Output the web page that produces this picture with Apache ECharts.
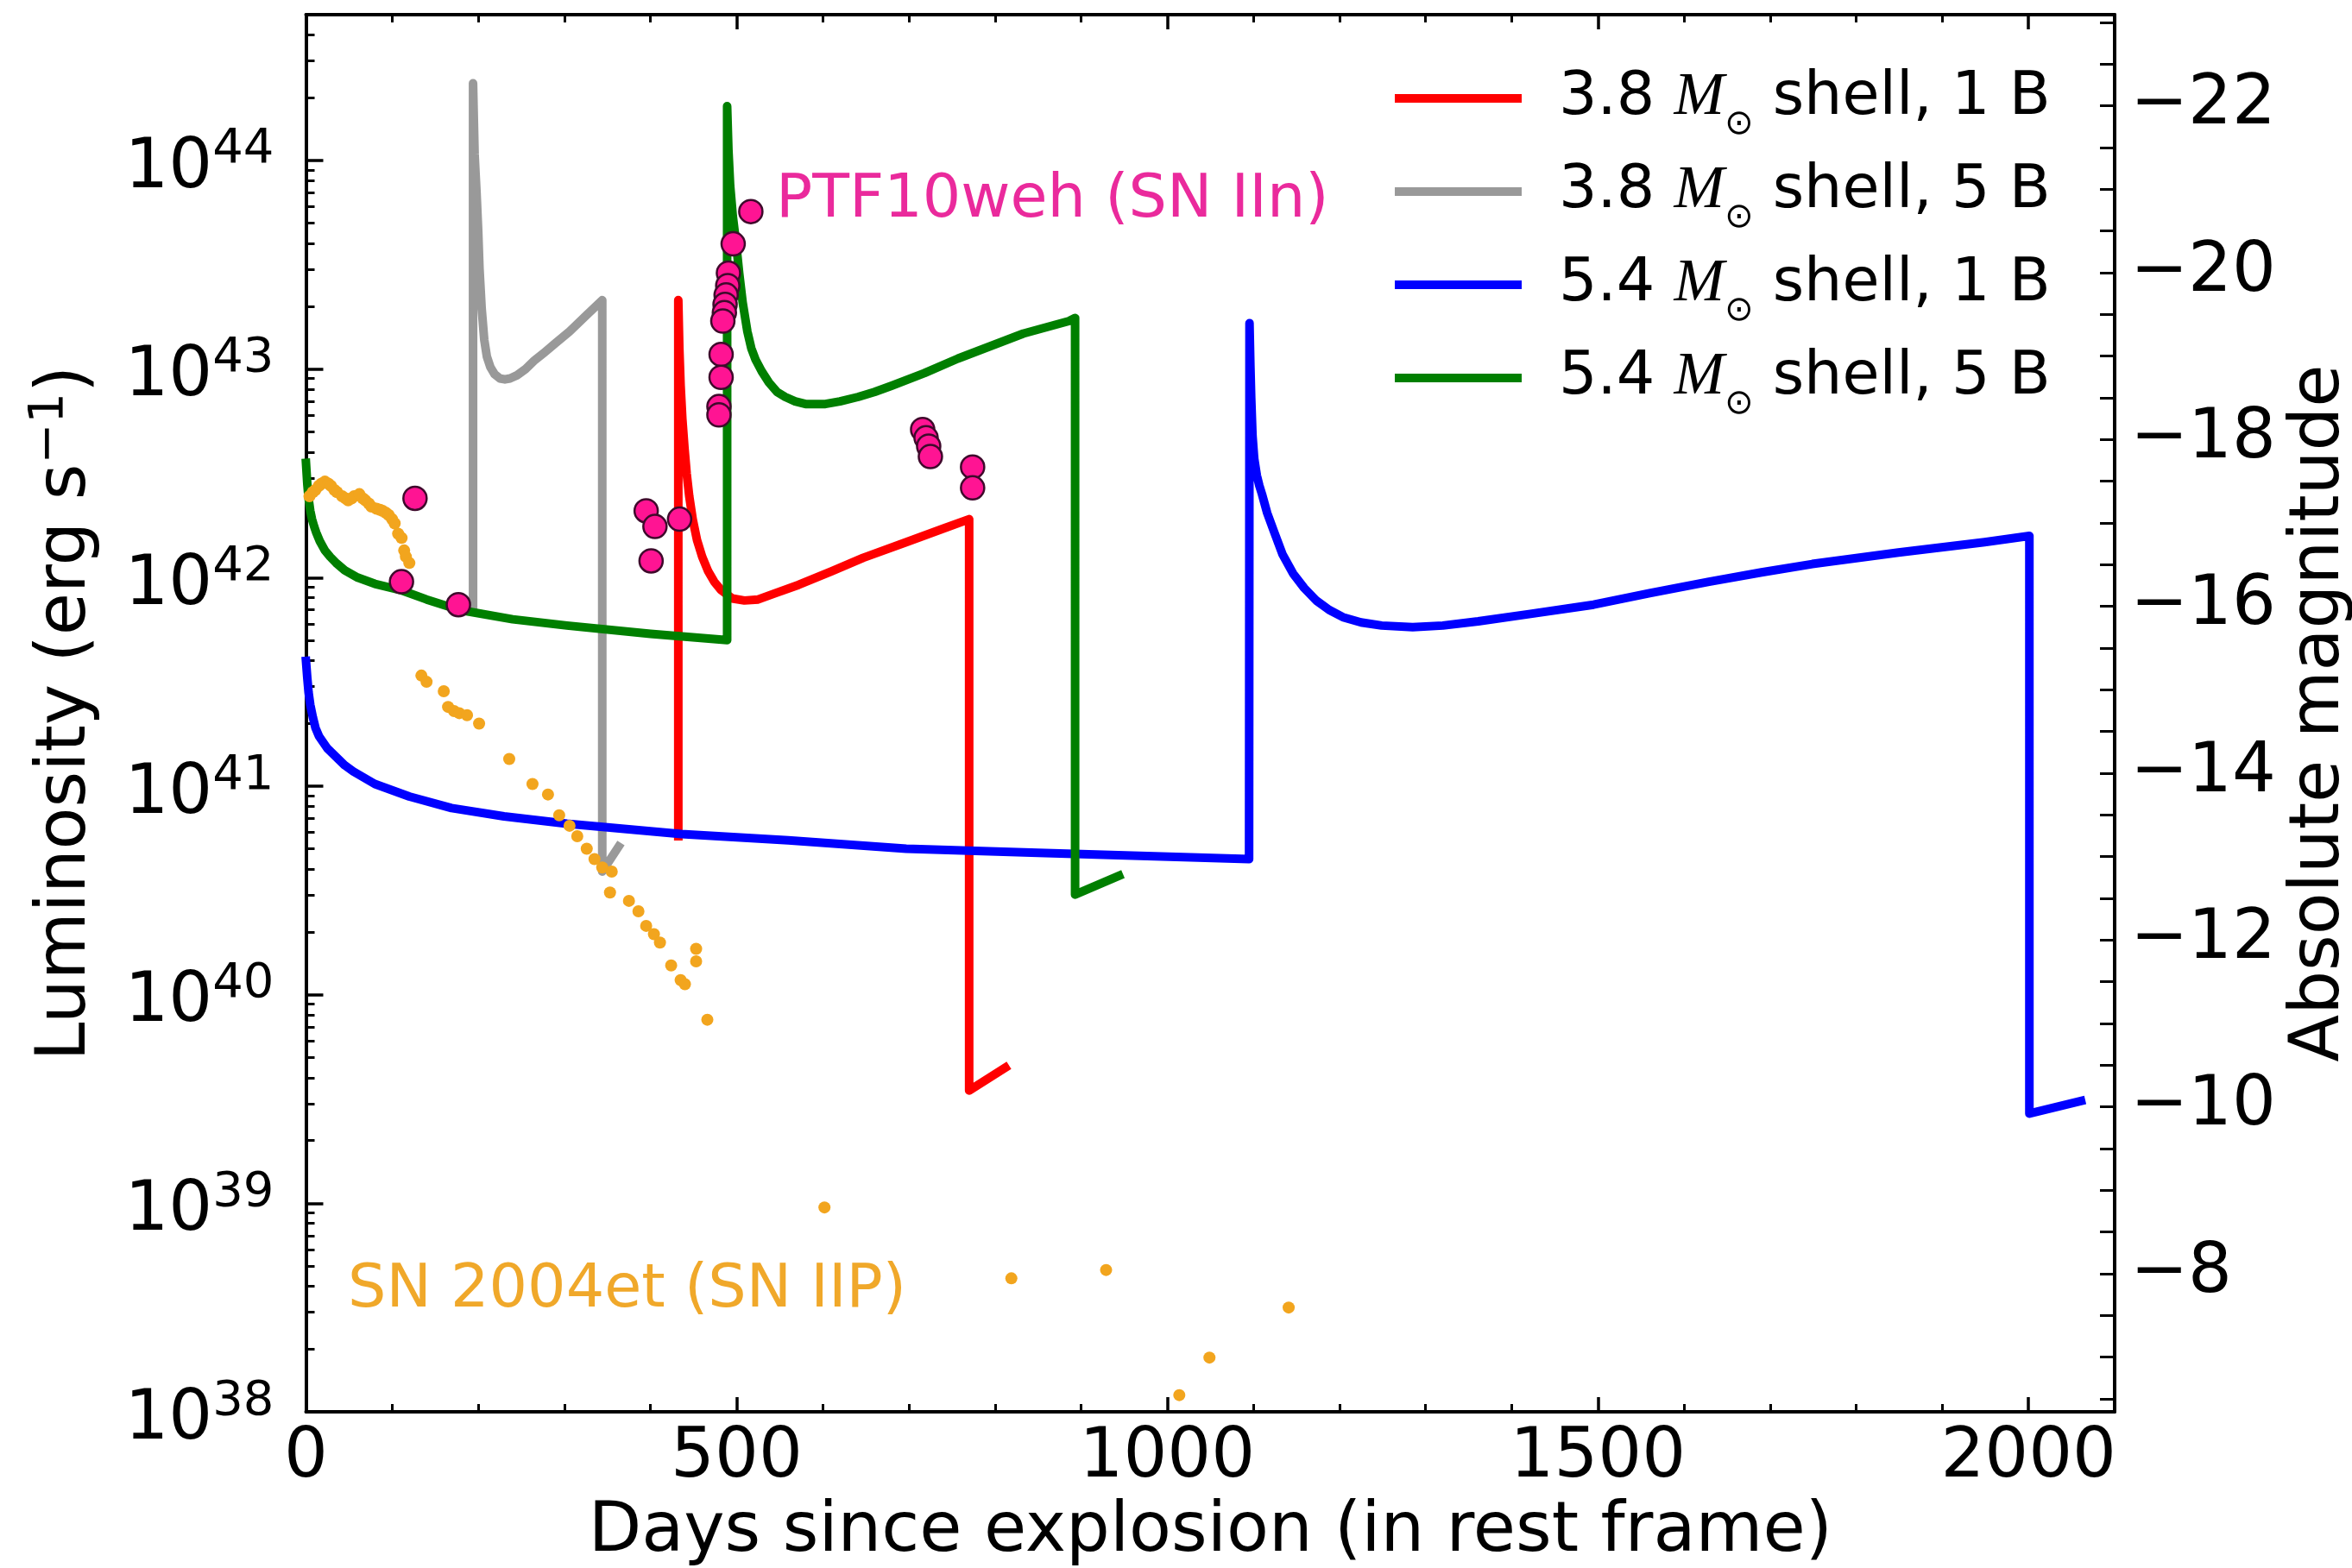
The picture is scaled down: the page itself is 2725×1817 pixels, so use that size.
<!DOCTYPE html>
<html>
<head>
<meta charset="utf-8">
<script src="https://cdn.jsdelivr.net/npm/echarts@6/dist/echarts.min.js"></script>
<style>
  html, body { margin: 0; padding: 0; background: #ffffff; }
  #chart { width: 2725px; height: 1817px; }
</style>
</head>
<body>
<div id="chart"></div>
<script>
// Light curves: [days since explosion, log10 L (erg/s)]
const shell38_1B = [
  [432.3, 40.76], [432.3, 43.33], [433.5, 43.10], [435, 42.92], [437, 42.76], [439.5, 42.62],
  [442, 42.50], [445, 42.39], [449, 42.28], [454, 42.18], [460, 42.10], [467, 42.03],
  [474, 41.98], [482, 41.94], [495, 41.90], [509, 41.89], [525, 41.895], [545, 41.925],
  [572, 41.965], [610, 42.03], [647, 42.095], [697, 42.17], [740, 42.235], [770, 42.28],
  [770, 39.54], [812, 39.65]
];
const shell38_5B = [
  [194, 41.84], [194, 44.37], [195, 44.18], [195.8, 44.03], [197, 43.93], [198, 43.85],
  [200, 43.66], [201.5, 43.48], [204, 43.29], [207, 43.14], [210, 43.06], [214, 43.01],
  [219, 42.975], [225, 42.955], [231, 42.95], [237, 42.955], [245, 42.97], [255, 43.00],
  [265, 43.04], [277, 43.08], [290, 43.125], [306, 43.18], [325, 43.255], [344, 43.33],
  [344, 40.59], [363, 40.71]
];
const shell54_1B = [
  [0, 41.60], [1.5, 41.52], [3, 41.45], [5, 41.39], [8, 41.33], [11, 41.28], [15, 41.24],
  [20, 41.21], [25, 41.18], [35, 41.14], [45, 41.10], [55, 41.07], [80, 41.01], [120, 40.95],
  [169, 40.895], [230, 40.855], [303, 40.82], [436, 40.77], [560, 40.74], [697, 40.70],
  [850, 40.68], [1095, 40.65], [1095.5, 43.22], [1096.5, 43.02], [1097.5, 42.86], [1099, 42.68],
  [1101, 42.57], [1104, 42.49], [1107, 42.44], [1110, 42.40], [1116, 42.31], [1124, 42.22],
  [1134, 42.11], [1146, 42.02], [1159, 41.95], [1173, 41.89], [1188, 41.845], [1204, 41.81],
  [1225, 41.785], [1249, 41.77], [1285, 41.762], [1320, 41.77], [1361, 41.79], [1420, 41.825],
  [1495, 41.87], [1560, 41.925], [1629, 41.98], [1690, 42.025], [1749, 42.065], [1849, 42.12],
  [1949, 42.17], [2001, 42.20], [2001, 39.43], [2061, 39.49]
];
const shell54_5B = [
  [0, 42.55], [1.5, 42.45], [3, 42.38], [5, 42.32], [7, 42.28], [9.5, 42.245], [12, 42.215],
  [16, 42.175], [22, 42.13], [28, 42.10], [35, 42.07], [45, 42.035], [60, 42.00], [80, 41.97],
  [110, 41.94], [140, 41.895], [178, 41.845], [240, 41.80], [303, 41.77], [400, 41.73],
  [489, 41.70], [489, 44.26], [490.5, 44.05], [492.5, 43.88], [495.5, 43.735], [499.5, 43.60],
  [503, 43.46], [507, 43.32], [512.5, 43.18], [517, 43.10], [522, 43.045], [529, 42.99],
  [537.5, 42.935], [547, 42.89], [556.5, 42.866], [568, 42.845], [580, 42.832], [603, 42.832],
  [620, 42.845], [641, 42.866], [660, 42.89], [680, 42.92], [718, 42.98], [757, 43.05],
  [795, 43.11], [833, 43.17], [886, 43.23], [893, 43.245], [893, 40.48], [944, 40.57]
];

// Observed photometry: [days, log10 L]
const ptf10weh = [
  [126.6, 42.38], [110.9, 41.98], [177, 41.87], [395, 42.32], [405.2, 42.245], [400.7, 42.08],
  [433.8, 42.28], [516.5, 43.755], [496, 43.60], [490.5, 43.46], [489.7, 43.40], [487.8, 43.355],
  [486.6, 43.31], [485.8, 43.27], [484, 43.23], [482, 43.07], [482, 42.96], [479.5, 42.82],
  [479.5, 42.78], [716, 42.71], [720, 42.67], [723, 42.63], [725, 42.58], [774, 42.53],
  [774, 42.43]
];
const sn2004et = [
  [4, 42.39], [8, 42.41], [11, 42.42], [15, 42.44], [18, 42.45], [22, 42.46], [26, 42.45],
  [29, 42.44], [33, 42.42], [36, 42.41], [42, 42.39], [46, 42.38], [49, 42.37], [53, 42.38],
  [56, 42.39], [62, 42.40], [66, 42.38], [69, 42.37], [73, 42.355], [76, 42.34], [82, 42.33],
  [86, 42.325], [89, 42.32], [93, 42.31], [96, 42.30], [100, 42.28], [103, 42.26], [107, 42.21],
  [111, 42.19], [114, 42.13], [116, 42.10], [120, 42.07], [134, 41.53], [140, 41.50],
  [160, 41.455], [165, 41.38], [172, 41.36], [178, 41.35], [187, 41.34], [201, 41.30],
  [236, 41.13], [263, 41.01], [281, 40.96], [294, 40.86], [306, 40.81], [315, 40.76],
  [326, 40.70], [335, 40.65], [344, 40.61], [355, 40.59], [353, 40.49], [375, 40.45],
  [386, 40.40], [395, 40.33], [404, 40.29], [411, 40.25], [424, 40.14], [435, 40.07],
  [440, 40.05], [453, 40.22], [453, 40.16], [466, 39.88], [602, 38.98], [819, 38.64],
  [929, 38.68], [1141, 38.50], [1049, 38.26], [1014, 38.08]
];

// Axis ticks
const dayTicks = [0, 500, 1000, 1500, 2000];
const lumExponents = [38, 39, 40, 41, 42, 43, 44];
const magTicks = [-22, -20, -18, -16, -14, -12, -10, -8];

const seriesNames = [
  '3.8 M\u2299 shell, 1 B',
  '3.8 M\u2299 shell, 5 B',
  '5.4 M\u2299 shell, 1 B',
  '5.4 M\u2299 shell, 5 B'
];
const seriesColors = ['#ff0000', '#999999', '#0000ff', '#007f00'];

// Axis extents
const DAY_MAX = 2100;
const LOG_MIN = 38;
const LOG_MAX = Math.log10(5e44);
const MAG_ZERO = 88.656;                 // M = MAG_ZERO - 2.5 log10 L
const MAG_TOP = MAG_ZERO - 2.5 * LOG_MAX;
const MAG_BOTTOM = MAG_ZERO - 2.5 * LOG_MIN;

const dayMinor = [];
for (let d = 100; d <= 2000; d += 100) if (d % 500 !== 0) dayMinor.push(d);
const lumMinor = [];
lumExponents.forEach(n => {
  for (let k = 2; k <= 9; k++) {
    const v = n + Math.log10(k);
    if (v <= LOG_MAX) lumMinor.push(v);
  }
});
const magMinor = [];
for (let m = -23; m <= -6.5; m += 0.5) magMinor.push(m);

const FONT = 'DejaVu Sans';
const INK = '#000000';

function tickAxis(base) {
  return Object.assign({
    type: 'value',
    splitLine: { show: false },
    axisLine: { show: false },
    axisLabel: { show: false },
    axisTick: { show: false }
  }, base);
}

const chart = echarts.init(document.getElementById('chart'), null, { renderer: 'canvas' });

const lineSeries = [shell38_1B, shell38_5B, shell54_1B, shell54_5B].map((d, i) => ({
  name: seriesNames[i],
  type: 'line',
  data: d,
  color: seriesColors[i],
  showSymbol: false,
  symbol: 'none',
  lineStyle: { width: 10, color: seriesColors[i], cap: 'square', join: 'round' },
  itemStyle: { color: seriesColors[i] },
  z: 2 + i * 0.01,
  silent: true
}));

chart.setOption({
  animation: false,
  backgroundColor: '#ffffff',
  textStyle: { fontFamily: FONT, color: INK },
  grid: { left: 354.5, right: 275, top: 17, bottom: 181, containLabel: false, outerBoundsMode: 'none' },
  legend: {
    data: seriesNames,
    orient: 'vertical',
    left: 1616,
    top: 63,
    padding: 0,
    itemGap: 6,
    itemWidth: 147,
    itemHeight: 10,
    icon: 'rect',
    selectedMode: false,
    itemStyle: { borderWidth: 0 },
    formatter: name => {
      const parts = name.split(' M\u2299');
      return '{f|' + parts[0] + ' }{m|M}{s|\u2299}{a|' + parts[1] + '}';
    },
    textStyle: {
      color: INK,
      rich: {
        f: { fontFamily: FONT, fontSize: 70, lineHeight: 102, color: INK, padding: [0, 0, 0, 38] },
        a: { fontFamily: FONT, fontSize: 70, lineHeight: 102, color: INK },
        m: { fontFamily: 'Liberation Serif', fontStyle: 'italic', fontSize: 70, lineHeight: 102, color: INK },
        s: { fontFamily: FONT, fontSize: 40, lineHeight: 40, color: INK, padding: [62, 0, 0, 0] }
      }
    }
  },
  xAxis: [
    tickAxis({
      position: 'bottom', min: 0, max: DAY_MAX,
      name: 'Days since explosion (in rest frame)',
      nameLocation: 'middle', nameGap: 100,
      nameTextStyle: { fontFamily: FONT, fontSize: 80, lineHeight: 80, color: INK },
      axisLine: { show: true, onZero: false, lineStyle: { color: INK, width: 4 } },
      axisTick: { show: true, inside: true, length: 17, customValues: dayTicks, lineStyle: { color: INK, width: 3.5 } },
      axisLabel: {
        show: true, customValues: dayTicks, margin: 14,
        fontFamily: FONT, fontSize: 80, lineHeight: 80, color: INK,
        formatter: v => String(Math.round(v))
      }
    }),
    tickAxis({
      position: 'bottom', min: 0, max: DAY_MAX,
      axisTick: { show: true, inside: true, length: 9, customValues: dayMinor, lineStyle: { color: INK, width: 3 } }
    }),
    tickAxis({
      position: 'top', min: 0, max: DAY_MAX,
      axisLine: { show: true, onZero: false, lineStyle: { color: INK, width: 4 } },
      axisTick: { show: true, inside: true, length: 17, customValues: dayTicks, lineStyle: { color: INK, width: 3.5 } }
    }),
    tickAxis({
      position: 'top', min: 0, max: DAY_MAX,
      axisTick: { show: true, inside: true, length: 9, customValues: dayMinor, lineStyle: { color: INK, width: 3 } }
    })
  ],
  yAxis: [
    tickAxis({
      position: 'left', min: LOG_MIN, max: LOG_MAX,
      name: '{t|Luminosity (erg s}{u|\u22121}{t|)}',
      nameLocation: 'middle', nameGap: 245, nameRotate: 90,
      nameTextStyle: {
        rich: {
          t: { fontFamily: FONT, fontSize: 80, lineHeight: 80, color: INK, padding: [16, 0, 0, 0] },
          u: { fontFamily: FONT, fontSize: 56, lineHeight: 56, color: INK, verticalAlign: 'top' }
        }
      },
      axisLine: { show: true, onZero: false, lineStyle: { color: INK, width: 4 } },
      axisTick: { show: true, inside: true, length: 20, customValues: lumExponents, lineStyle: { color: INK, width: 3.5 } },
      axisLabel: {
        show: true, customValues: lumExponents, margin: 37,
        formatter: v => '{b|10}{p|' + Math.round(v) + '}',
        rich: {
          b: { fontFamily: FONT, fontSize: 80, lineHeight: 80, color: INK, padding: [20, 0, 0, 0] },
          p: { fontFamily: FONT, fontSize: 56, lineHeight: 56, color: INK, verticalAlign: 'top' }
        }
      }
    }),
    tickAxis({
      position: 'left', min: LOG_MIN, max: LOG_MAX,
      axisTick: { show: true, inside: true, length: 10, customValues: lumMinor, lineStyle: { color: INK, width: 3 } }
    }),
    tickAxis({
      position: 'right', min: MAG_TOP, max: MAG_BOTTOM, inverse: true,
      name: 'Absolute magnitude',
      nameLocation: 'middle', nameGap: 156, nameRotate: 90,
      nameTextStyle: { fontFamily: FONT, fontSize: 80, lineHeight: 80, color: INK },
      axisLine: { show: true, onZero: false, lineStyle: { color: INK, width: 4 } },
      axisTick: { show: true, inside: true, length: 17, customValues: magMinor, lineStyle: { color: INK, width: 3 } },
      axisLabel: {
        show: true, customValues: magTicks, margin: 18,
        fontFamily: FONT, fontSize: 80, color: INK,
        formatter: v => (v < 0 ? '\u2212' : '') + Math.abs(Math.round(v))
      }
    })
  ],
  series: lineSeries.concat([
    {
      name: 'SN 2004et',
      type: 'scatter',
      data: sn2004et,
      symbol: 'circle',
      symbolSize: 14,
      itemStyle: { color: '#f2a51e', opacity: 1 },
      z: 3,
      silent: true
    },
    {
      name: 'PTF10weh',
      type: 'scatter',
      data: ptf10weh,
      symbol: 'circle',
      symbolSize: 27,
      itemStyle: { color: '#ff1493', borderColor: '#3f0a2c', borderWidth: 2.5, opacity: 1 },
      z: 4,
      silent: true
    }
  ]),
  graphic: [
    {
      type: 'text', x: 899, y: 233, silent: true,
      style: { text: 'PTF10weh (SN IIn)', fontFamily: FONT, fontSize: 70, fill: '#ea2a9c', verticalAlign: 'middle', align: 'left' }
    },
    {
      type: 'text', x: 403, y: 1496, silent: true,
      style: { text: 'SN 2004et (SN IIP)', fontFamily: FONT, fontSize: 70, fill: '#f0a82a', verticalAlign: 'middle', align: 'left' }
    }
  ]
});
</script>
</body>
</html>
